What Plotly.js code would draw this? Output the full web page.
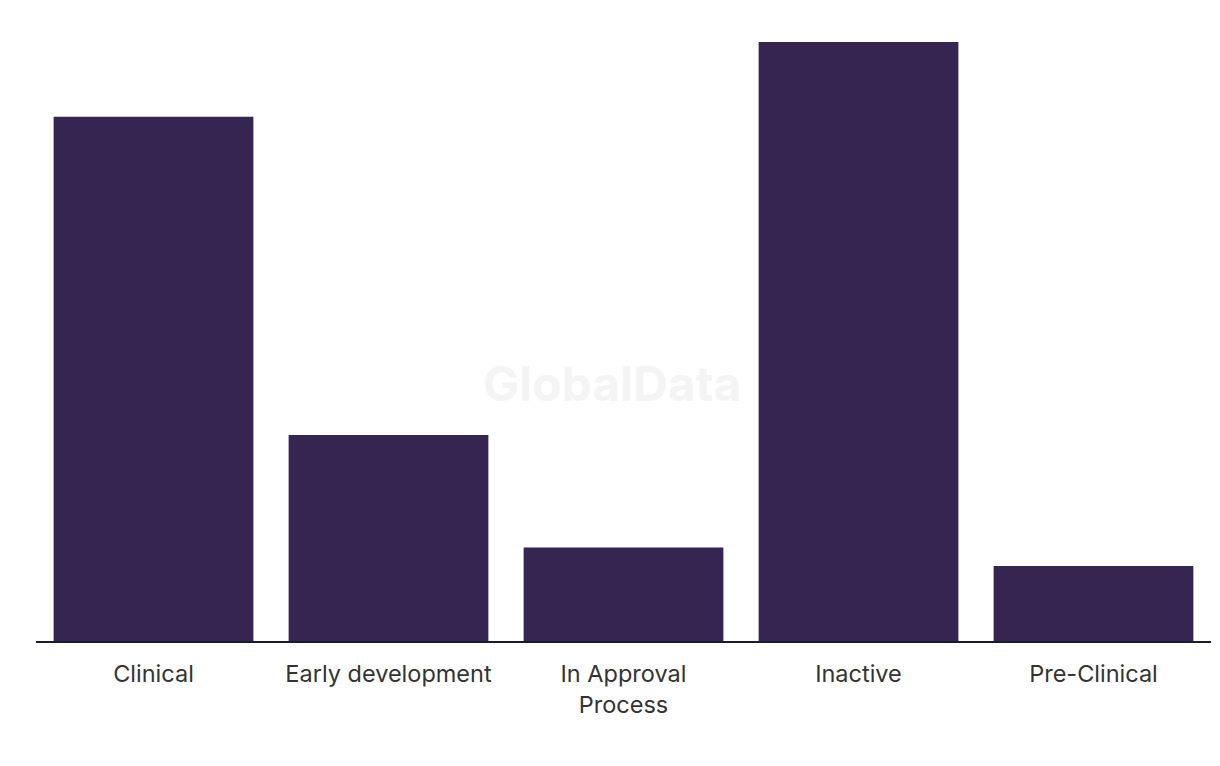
<!DOCTYPE html>
<html>
<head>
<meta charset="utf-8">
<script src="https://cdn.plot.ly/plotly-3.0.1.min.js"></script>
<style>html,body{margin:0;padding:0;background:#fff;}#chart{width:1220px;height:766px;}</style>
</head>
<body>
<div id="chart"></div>
<script>
const categories = ["Clinical", "Early development", "In Approval<br>Process", "Inactive", "Pre-Clinical"];
const values = [28, 11, 5, 32, 4];

const trace = {
  type: 'bar',
  x: categories,
  y: values,
  marker: {color: '#362551'},
  hoverinfo: 'x+y'
};

const layout = {
  width: 1220,
  height: 766,
  margin: {l: 36, r: 9, t: 20, b: 125},
  paper_bgcolor: '#ffffff',
  plot_bgcolor: '#ffffff',
  bargap: 0.15,
  showlegend: false,
  xaxis: {
    showline: true,
    linecolor: '#1a1a2e',
    linewidth: 2,
    ticks: '',
    showgrid: false,
    zeroline: false,
    tickfont: {family: 'Inter, sans-serif', size: 23.5, color: '#333333'},
    ticklabelstandoff: 11
  },
  yaxis: {
    range: [0, 33.17],
    visible: false,
    showgrid: false,
    zeroline: false
  },
  annotations: [{
    text: '<b>GlobalData</b>',
    xref: 'paper', yref: 'paper',
    x: 0.49, y: 0.415,
    showarrow: false,
    font: {family: 'Inter, sans-serif', size: 48, color: '#f4f4f4'}
  }]
};

Plotly.newPlot('chart', [trace], layout, {displayModeBar: false});
</script>
</body>
</html>
